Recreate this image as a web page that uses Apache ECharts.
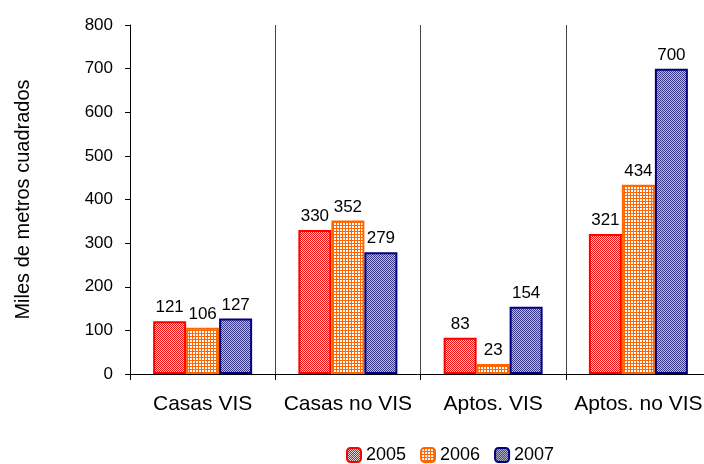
<!DOCTYPE html>
<html>
<head>
<meta charset="utf-8">
<script src="https://cdn.jsdelivr.net/npm/echarts@6/dist/echarts.min.js"></script>
<style>
  html, body { margin: 0; padding: 0; background: #fff; }
  #chart { width: 704px; height: 464px; }
</style>
</head>
<body>
<div id="chart"></div>
<script>
// datos
const categories = ['Casas VIS', 'Casas no VIS', 'Aptos. VIS', 'Aptos. no VIS']
const years = ['2005', '2006', '2007']
const v2005 = [121, 330, 83, 321]
const v2006 = [106, 352, 23, 434]
const v2007 = [127, 279, 154, 700]
const yTicks = [0, 100, 200, 300, 400, 500, 600, 700, 800]

// tramas tipo Excel
function makePattern (kind) {
  const c = document.createElement('canvas')
  const ctx = c.getContext('2d')
  if (kind === 'grid') {
    c.width = 3; c.height = 3
    ctx.fillStyle = '#ffffff'
    ctx.fillRect(0, 0, 3, 3)
    ctx.fillStyle = '#ff6600'
    ctx.fillRect(0, 0, 3, 1)
    ctx.fillRect(0, 0, 1, 3)
    return c
  }
  // punteado fino
  const fg = kind === 'red' ? '#ee1111' : '#3a3a88'
  const bg = kind === 'red' ? '#e0d4d4' : '#bcbccc'
  c.width = 4; c.height = 4
  ctx.fillStyle = bg
  ctx.fillRect(0, 0, 4, 4)
  ctx.fillStyle = fg
  for (let y = 0; y < 4; y++) {
    for (let x = 0; x < 4; x++) {
      if ((x + y) % 2 === 0) ctx.fillRect(x, y, 1, 1)
    }
  }
  return c
}

const fills = [
  { image: makePattern('red'), repeat: 'repeat' },
  { image: makePattern('grid'), repeat: 'repeat' },
  { image: makePattern('blue'), repeat: 'repeat' }
]
const borders = ['#ff0000', '#ff6600', '#000080']
const values = [v2005, v2006, v2007]

const chart = echarts.init(document.getElementById('chart'))
const font = 'Liberation Sans, Arial, sans-serif'

chart.setOption({
  animation: false,
  textStyle: { fontFamily: font },
  grid: { left: 130, top: 25, width: 581, bottom: 90, containLabel: false, outerBoundsMode: 'none' },
  legend: {
    left: 341,
    top: 441,
    itemWidth: 14,
    itemHeight: 14,
    itemGap: 14,
    textStyle: { fontSize: 18, color: '#000', fontFamily: font },
    data: years
  },
  xAxis: {
    type: 'category',
    data: categories,
    axisLine: { lineStyle: { color: '#000', width: 1 } },
    axisTick: { show: true, interval: 0, length: 6, lineStyle: { color: '#000' } },
    axisLabel: { color: '#000', fontSize: 21, margin: 20, interval: 0, hideOverlap: false, fontFamily: font },
    splitLine: { show: true, interval: 0, lineStyle: { color: '#444', width: 1 } }
  },
  yAxis: {
    type: 'value',
    min: 0,
    max: yTicks[yTicks.length - 1],
    interval: 100,
    name: 'Miles de metros cuadrados',
    nameLocation: 'middle',
    nameGap: 97,
    nameTextStyle: { fontSize: 20, color: '#000', fontFamily: font },
    axisLine: { show: true, lineStyle: { color: '#000', width: 1 } },
    axisTick: { show: true, length: 5, lineStyle: { color: '#000' } },
    axisLabel: { color: '#000', fontSize: 17, margin: 17, fontFamily: font },
    splitLine: { show: false }
  },
  series: years.map((y, i) => ({
    name: y,
    type: 'bar',
    data: values[i],
    barWidth: 33,
    barGap: '0%',
    itemStyle: { color: fills[i], borderColor: borders[i], borderWidth: 2 },
    label: {
      show: true,
      position: 'top',
      distance: 5,
      color: '#000',
      fontSize: 17,
      fontFamily: font
    }
  }))
})
</script>
</body>
</html>
